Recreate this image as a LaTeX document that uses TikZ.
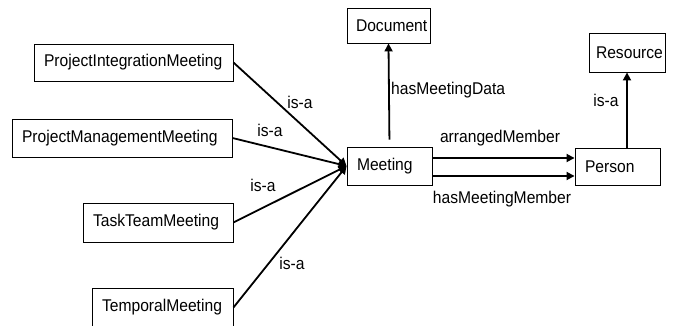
\documentclass[tikz,border=0pt]{standalone}
\usepackage{fontspec}
\setmainfont[FakeStretch=0.92]{Liberation Sans}
\usetikzlibrary{arrows.meta,calc}
\begin{document}
\begin{tikzpicture}[x=1pt,y=-1pt,
  font=\fontsize{17}{19}\selectfont,
  box/.style={draw=black,line width=0.9pt,rectangle,inner ysep=0pt,inner xsep=10pt,
    anchor=center,fill=white,align=left,text width=#1-20pt,minimum width=#1},
  rel/.style={line width=1.8pt,-{Triangle[width=8pt,length=8pt]}},
  lbl/.style={inner sep=0pt,anchor=center}]
\useasboundingbox (0,0) rectangle (686,326);
\node[box=199pt,minimum height=37pt] (pim) at (133.5,62.5) {ProjectIntegrationMeeting};
\node[box=220pt,minimum height=38pt] (pmm) at (122,138) {ProjectManagementMeeting};
\node[box=150pt,minimum height=39pt] (ttm) at (158,222.5) {TaskTeamMeeting};
\node[box=141pt,minimum height=39pt] (tm) at (162.5,307.5) {TemporalMeeting};
\node[box=85pt,minimum height=38pt] (meet) at (389.5,166) {Meeting};
\node[box=83pt,minimum height=35pt,inner xsep=9pt,text width=65pt] (doc) at (388.5,25.5) {Document};
\node[box=76pt,minimum height=39pt,inner xsep=7pt,text width=62pt] (res) at (627,52.5) {Resource};
\node[box=85pt,minimum height=37pt] (pers) at (617.5,166.5) {Person};

\draw[rel] (pim.east) -- (meet.west);
\draw[rel] (pmm.east) -- (meet.west);
\draw[rel] (ttm.east) -- (meet.west);
\draw[rel] (tm.east) -- (meet.west);
\draw[rel,shorten <=7pt] (meet.north) -- (doc.south);
\draw[rel] ([yshift=-10pt]meet.east) -- ([yshift=-10pt]meet.east -| pers.west);
\draw[rel] ([yshift=8pt]meet.east) -- ([yshift=8pt]meet.east -| pers.west);
\draw[rel] (res.south |- pers.north) -- (res.south);

\node[lbl] (l1) at (300,102) {is-a};
\node[lbl] (l2) at (270,130) {is-a};
\node[lbl] (l3) at (263,185) {is-a};
\node[lbl] (l4) at (292,263) {is-a};
\node[lbl,anchor=west] (l5) at (391,90) {hasMeetingData};
\node[lbl] (l6) at (500,138) {arrangedMember};
\node[lbl] (l7) at (502,199) {hasMeetingMember};
\node[lbl] (l8) at (606,100) {is-a};
\end{tikzpicture}
\end{document}
